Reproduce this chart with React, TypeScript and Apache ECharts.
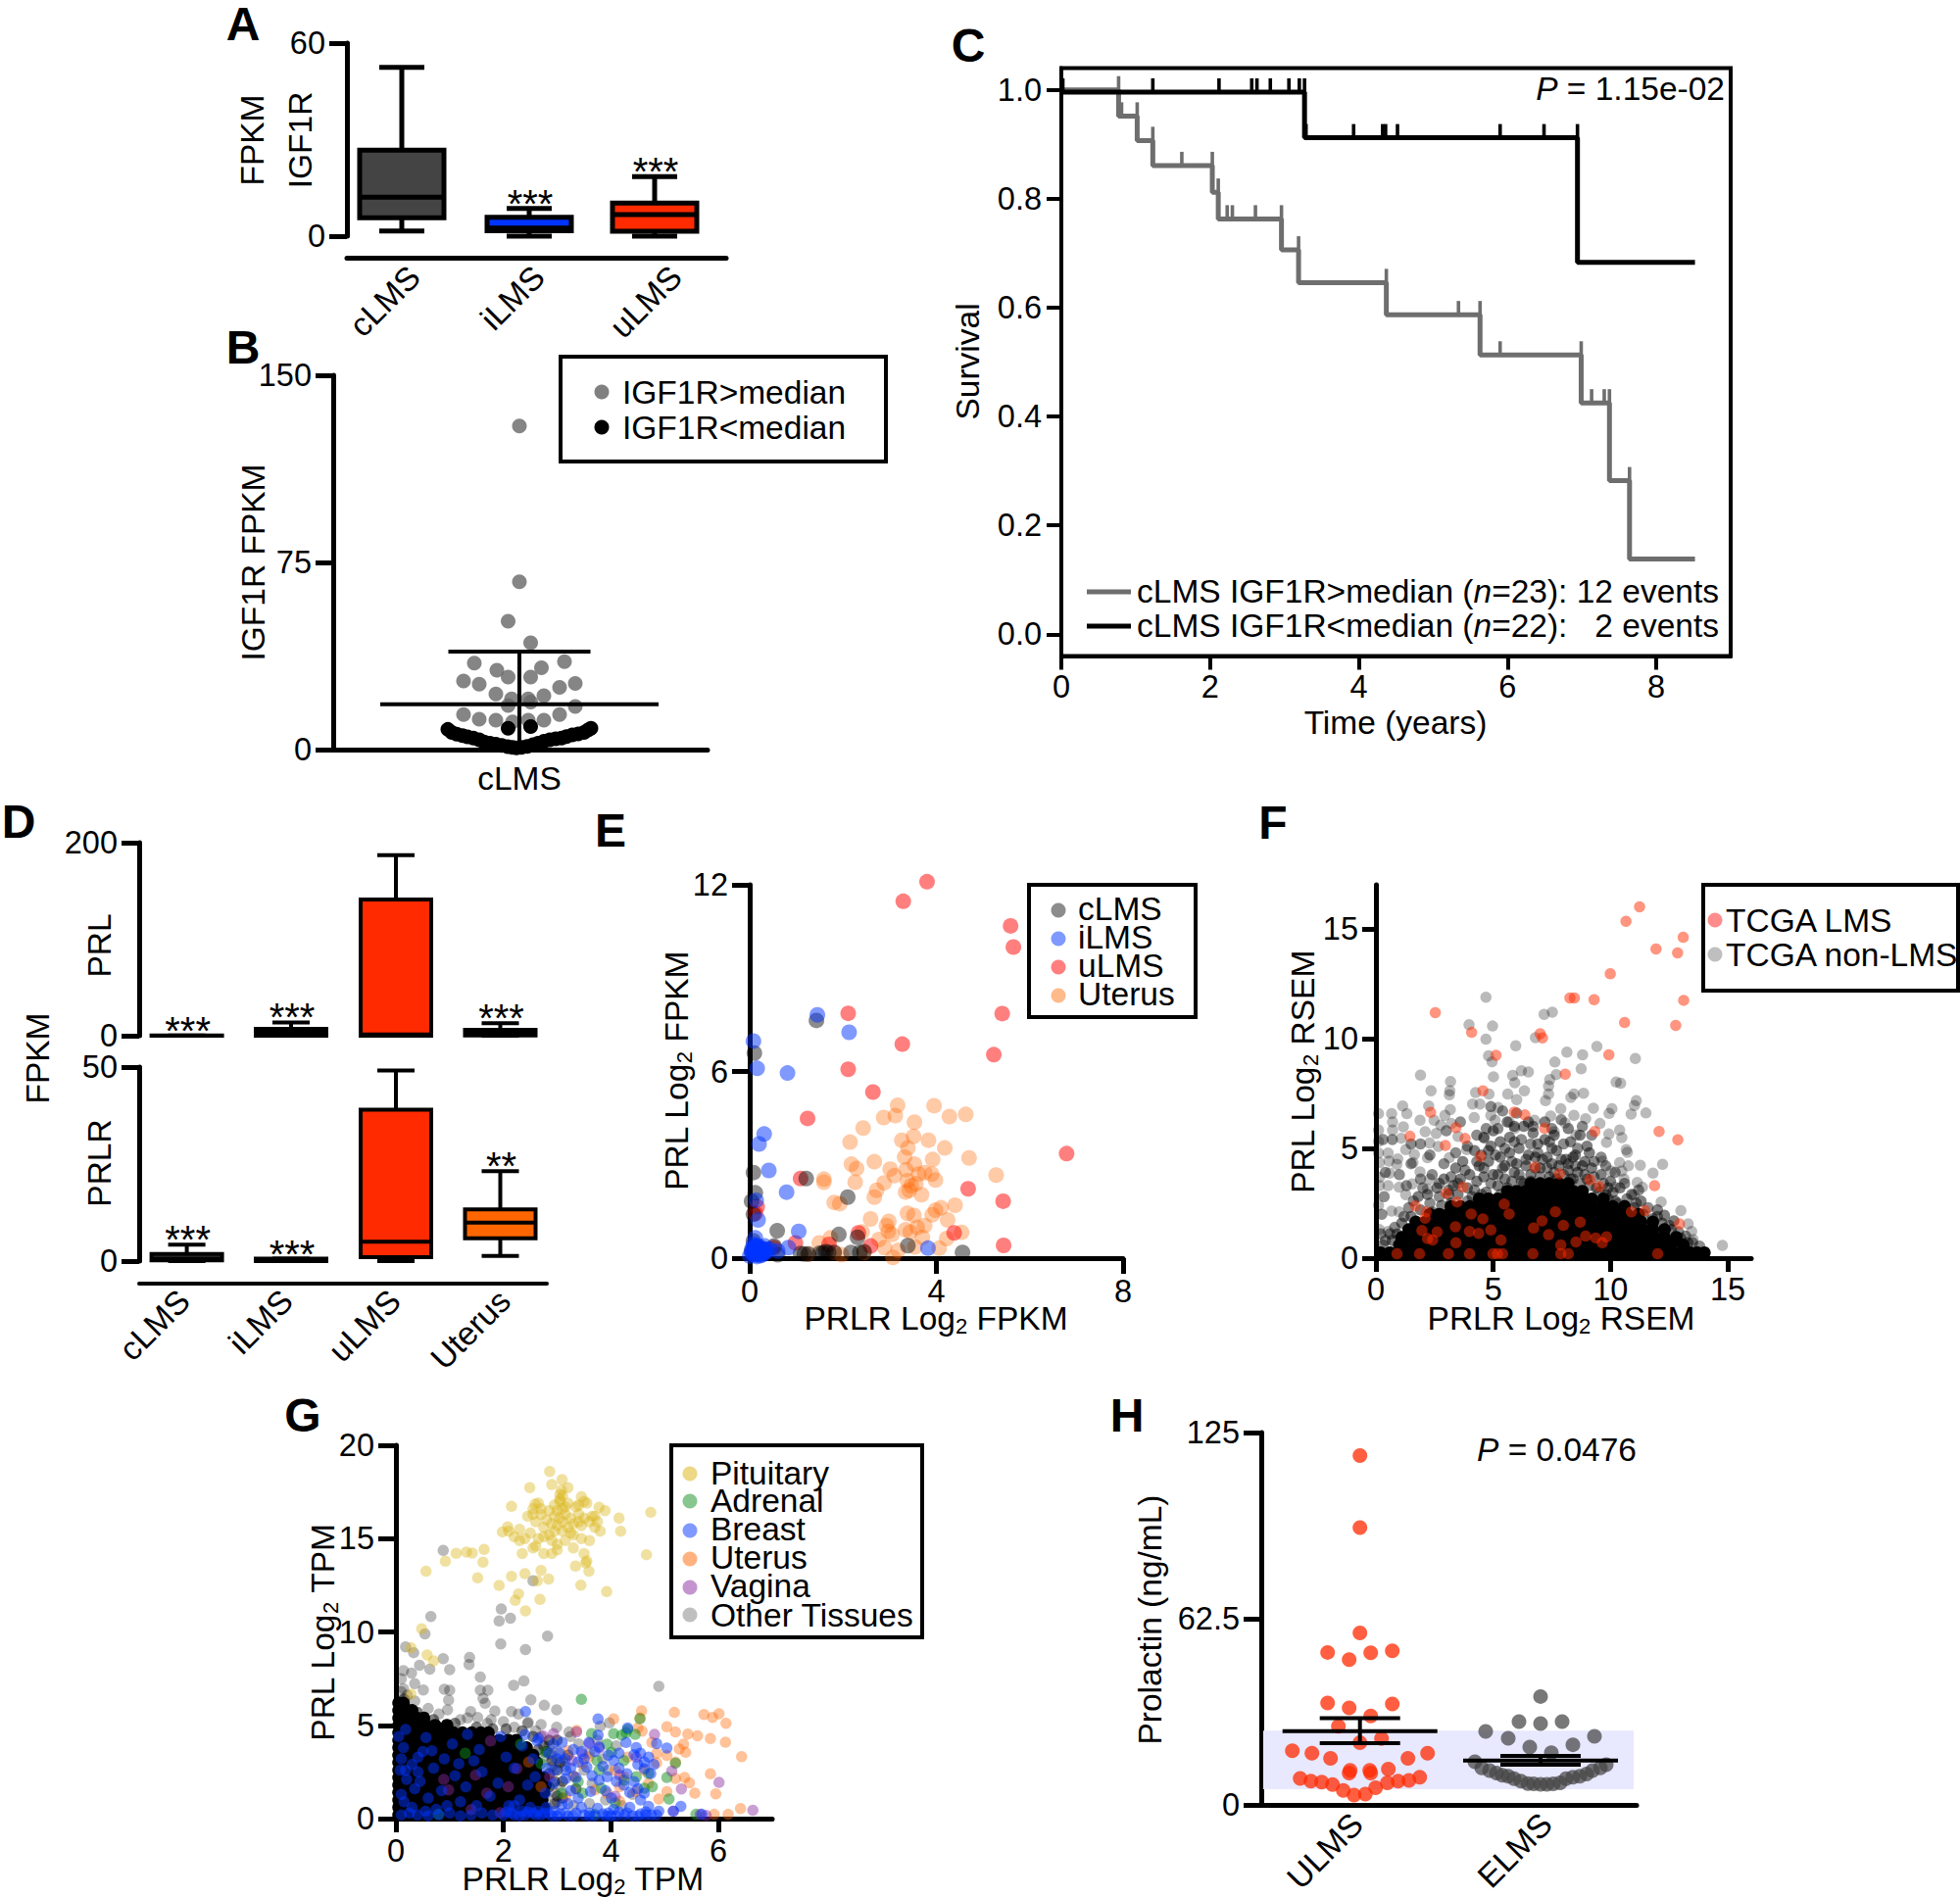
import React, { useEffect, useRef } from "react";
import * as echarts from "echarts";

const FONT = '"Liberation Sans", Arial, Helvetica, sans-serif';
const RED = "#ff2a00", BLUE = "#0033ff", ORANGE = "#ff6600", DARK = "#444444";
const TEXT_SIZE = 33.5, TICK_SIZE = 32.5;

// ---------- A
const aCategories = ["cLMS", "iLMS", "uLMS"];
const aBoxes = [[1.6, 5.7, 12.1, 26.7, 52.5], [0, 1.7, 2.5, 5.9, 8.6], [0, 1.5, 6.7, 10.3, 18.5]];
const aStars = ["", "***", "***"];
// ---------- B
const bHigh = [[0,129.7],[0,67.2],[-11.5,51.4],[11.5,42.8],[-46,34.7],[46,35.2],[-23,31.8],[22.5,32.8],[-11.5,29.1],[11.5,29.1],[-57,27.5],[57,26.5],[-41,26.2],[41,24.9],[-24,22.3],[25,21.6],[-8,20.3],[9,20.3],[-11.5,17.7],[11.5,19],[57,17.3],[-57,14],[41,14],[-41,12.2],[-24,11.8],[25,11.8],[-7,11.1],[9,11.8]];
const bLow = [[-11.5,8.5],[11.5,9.2],[-73,8.1],[-69,6.9],[-64,6.2],[-58,5.6],[-53,5.1],[-47,4.6],[-41,3.9],[-36,3],[-30,2.6],[-24,2.2],[-18,1.7],[-12,1.2],[-7,0.9],[-3,0.7],[2,0.9],[8,1.3],[14,2],[19,2.6],[25,3.3],[31,3.9],[37,4.3],[43,4.6],[48,5.2],[54,5.9],[60,6.3],[66,6.9],[70,7.9],[73,8.5]];
const bMeanSd = [0, 0, 18.2, 39.3];
// ---------- C
const cHighLine = [[0,1],[0.77,0.952],[1.02,0.907],[1.23,0.861],[2.03,0.812],[2.11,0.763],[2.96,0.706],[3.19,0.646],[4.37,0.587],[5.63,0.513],[6.99,0.425],[7.37,0.282],[7.64,0.138],[8.52,0.138]];
const cLowLine = [[0,0.996],[3.27,0.912],[6.94,0.683],[8.52,0.683]];
const cHighCensor = [[0.77,1],[0.81,0.952],[1.02,0.952],[1.23,0.907],[1.62,0.861],[2.03,0.861],[2.11,0.812],[2.23,0.763],[2.3,0.763],[2.61,0.763],[2.96,0.763],[3.19,0.706],[4.37,0.646],[5.34,0.587],[5.63,0.587],[5.9,0.513],[6.99,0.513],[7.13,0.425],[7.3,0.425],[7.37,0.425],[7.64,0.282]];
const cLowCensor = [[0.02,0.996],[1.23,0.996],[2.12,0.996],[2.56,0.996],[2.63,0.996],[2.81,0.996],[3.06,0.996],[3.2,0.996],[3.27,0.996],[3.29,0.912],[3.93,0.912],[4.32,0.912],[4.36,0.912],[4.52,0.912],[5.9,0.912],[6.49,0.912],[6.94,0.912]];
const cXTicks = [0, 2, 4, 6, 8];
const cYTicks = [0, 0.2, 0.4, 0.6, 0.8, 1];
// ---------- D
const dCategories = ["cLMS", "iLMS", "uLMS", "Uterus"];
const dPrlBoxes = [[0, 0, 0.1, 0.3, 0.3], [0, 0, 3.2, 7, 13.8], [0, 0, 1.2, 141, 187], [0, 0.3, 2.8, 6, 13]];
const dPrlStars = ["***", "***", "", "***"];
const dPrlrBoxes = [[0, 0.2, 0.6, 1.8, 4.2], [0, 0, 0.2, 0.6, 0.6], [0, 1, 5, 39, 49.1], [1.3, 5.9, 9.9, 13.3, 23.2]];
const dPrlrStars = ["***", "***", "", "**"];
// ---------- E
const eUlms = [[3.8,12.1],[3.29,11.47],[5.59,10.68],[5.65,10],[2.11,7.87],[5.41,7.86],[3.27,6.88],[5.23,6.54],[2.11,6.07],[2.64,5.34],[1.24,4.49],[6.79,3.36],[4.68,2.23],[5.43,1.83],[1.09,2.56],[4.38,0.81],[5.44,0.41],[2.33,0.81],[2.59,0.39],[0.98,0.49],[0.16,1.65],[0.12,1.44],[1.7,0.44],[0.52,0.34]];
const eIlms = [[1.45,7.82],[2.13,7.26],[0.08,6.98],[0.16,6.1],[0.81,5.95],[0.31,3.99],[0.2,3.67],[0.41,2.82],[0.79,2.12],[0.14,1.86],[0.18,1.23],[1.05,0.86],[0.12,0.65],[3.82,0.32],[0.83,0.34],[0.6,0.23],[0.08,0.28],[0.16,0.23],[0.24,0.34],[0.32,0.39],[0.04,0.18],[0.2,0.13],[0.28,0.18],[0.12,0.39],[0.36,0.28],[0,0.07],[0.44,0.28],[0.08,0.44],[0.14,0.15],[0.22,0.2],[0.1,0.25],[0.18,0.35],[0.26,0.1],[0.3,0.25],[0.05,0.3],[0.15,0.05],[0.1,0.1],[0.2,0.3],[0.25,0.2],[0.3,0.15],[0.12,0.2],[0.18,0.12],[0.06,0.15],[0.22,0.08],[0.28,0.3],[0.14,0.3],[0.34,0.18],[0.1,0.35],[0.16,0.4],[0.24,0.15]];
const eClms = [[1.43,7.64],[0.1,6.59],[0.08,2.75],[1.21,2.56],[0.12,2.1],[0.04,1.83],[2.1,1.96],[0.08,1.41],[0.59,0.88],[1.91,0.76],[2.31,0.67],[3.39,0.4],[4.56,0.18],[0.52,0.39],[0.6,0.11],[1.09,0.15],[1.17,0.13],[1.26,0.13],[1.5,0.16],[1.57,0.17],[1.63,0.21],[1.69,0.18],[1.81,0.18],[2.17,0.18],[2.36,0.18],[2.45,0.21],[0.04,0.23],[0.08,0.55]];
const eUterus = [[3.17,4.91],[3.95,4.9],[2.87,4.52],[3.12,4.58],[4.28,4.55],[4.63,4.62],[3.53,4.37],[2.43,4.18],[3.51,3.91],[3.26,3.79],[2.15,3.73],[3.83,3.79],[3.39,3.54],[4.18,3.54],[3.32,3.25],[3.92,3.17],[4.7,3.22],[2.67,3.1],[2.18,3.02],[2.29,2.88],[3.01,2.86],[3.53,3.02],[3.35,2.84],[3.62,2.7],[3.75,2.75],[3.9,2.7],[3.1,2.65],[5.28,2.67],[1.59,2.54],[1.59,2.44],[2.26,2.44],[3.98,2.51],[3.38,2.49],[2.88,2.42],[3.56,2.39],[3.46,2.33],[2.72,2.18],[3.34,2.12],[2.67,1.96],[3.42,2.18],[3.68,2.04],[1.81,1.79],[1.93,1.75],[4.4,1.7],[4.1,1.62],[3.98,1.54],[3.38,1.44],[3.52,1.37],[3.91,1.39],[2.59,1.26],[4.24,1.23],[2.98,1.18],[2.93,1.05],[3.75,1.05],[3.59,0.99],[3.34,0.91],[3.44,0.84],[2.97,0.86],[2.41,0.84],[4.54,0.83],[3.05,0.76],[3.7,0.67],[2.77,0.6],[4.22,0.63],[1.73,0.65],[1.49,0.49],[2.89,0.34],[4.06,0.32],[3.54,0.36],[3.18,0.25],[3.07,0.02],[1.97,0.11],[1.81,0.18],[1.25,0.13],[2.45,0.18]];
// ---------- F
const fLms = [[11.24,16],[10.66,15.34],[13.1,14.61],[11.94,14.08],[12.86,13.9],[9.99,12.95],[13.12,11.74],[8.27,11.85],[8.46,11.85],[9.3,11.77],[2.53,11.18],[10.6,10.73],[12.78,10.6],[4.08,10.28],[7,10.22],[7.1,10.03],[5.12,9.24],[9.93,9.26],[8.07,8.38],[4.56,7.62],[2.33,6.64],[5.9,6.65],[6.35,6.52],[3.41,5.94],[7.19,5.91],[9.33,5.77],[12.07,5.77],[1.45,5.55],[3.8,5.45],[12.87,5.39],[2.96,5.13],[4.45,4.63],[6.78,4.15],[7.82,3.84],[9.12,3.57],[9.52,3.27],[3.71,3.23],[11.88,3.3],[3,2.96],[3.46,2.56],[5.47,2.46],[1.68,2.38],[2.14,2.11],[4.06,2.01],[5.68,2.01],[7.65,2.11],[10.89,2.11],[11.47,2.16],[2.1,1.82],[4.56,1.79],[7.08,1.7],[8.71,1.64],[7.99,1.49],[12.94,1.56],[3.39,1.43],[6.72,1.37],[1.96,1.26],[2.61,1.19],[3.99,1.22],[4.38,1.13],[4.9,1.28],[7.36,1.07],[8.94,1],[9.37,0.92],[9.83,0.97],[2.2,0.89],[2.42,0.83],[5.33,0.82],[3.41,0.7],[9.65,0.7],[8.53,0.74],[7.88,0.6],[0.9,0.2],[1.86,0.2],[3.09,0.2],[3.99,0.2],[4.99,0.2],[5.18,0.2],[5.4,0.2],[6.69,0.2],[7.88,0.2],[8.2,0.2],[12.01,0.2]];
const fSparse = [[4.69,11.88],[3.97,10.63],[4.97,10.57],[7.17,11.1],[7.52,11.2],[6.8,10.04],[4.69,9.97],[5.96,9.67],[4.8,9.21],[4.95,8.94],[8.14,9.38],[8.81,9.26],[9.42,9.64],[11.06,9.09],[7.63,8.93],[8.75,8.62],[1.9,8.33],[5.01,8.26],[5.83,8.32],[6.2,8.53],[6.5,8.48],[7.41,8.13],[7.69,8.36],[3.18,8.04],[5.92,7.99],[7.36,7.84],[10.24,8.02],[10.43,7.96],[2.35,7.62],[3.15,7.62],[3.13,7.44],[4.25,7.54],[4.82,7.47],[5.62,7.47],[6.33,7.62],[7.36,7.47],[8.44,7.47],[8.85,7.51],[8.31,7.32],[6,7.22],[7.23,7.17],[4.12,7.02],[4.43,7.02],[1.14,6.93],[11.1,7.17],[11.02,6.95],[5.21,6.86],[7.88,6.8],[9.27,6.83],[10.06,6.8],[2.25,6.93],[3.17,6.76],[0.11,6.58],[0.67,6.58],[10.88,6.56],[11.51,6.61],[1.32,6.58],[9.94,6.59],[4.19,6.4],[4.9,6.5],[2.94,6.5],[8.44,6.5],[8.94,6.35],[7.45,6.47],[1.88,6.28],[0.71,6.2],[2.48,6.28],[0.11,5.83],[0.71,5.83],[1.17,5.98],[2.76,6.06],[3.22,6.13],[5.08,6.28],[5.68,6.2],[6.76,6.28],[8.06,6.16],[9.55,6.13],[10.39,5.83],[9.93,5.65],[10.48,5.49],[0.11,5.31],[1.08,5.46],[2.1,5.76],[2.57,5.68],[3.5,5.54],[4.62,5.46],[5.92,5.91],[7.6,5.76],[8.53,5.61],[9.83,5.27],[0.11,4.79],[0.52,4.79],[1.27,4.94],[2.29,5.24],[2.66,5.09],[3.87,4.94],[10.67,4.94],[10.72,4.82],[1.64,4.72],[0.93,4.52],[0.56,4.42],[2.2,4.57],[3.13,4.57],[0.89,4.27],[0.15,4.35],[12.22,4.27],[11.27,4.23],[10.76,4.2],[10.39,4.35],[1.58,4.35],[9.65,4.42],[1.88,3.93],[0.58,3.87],[11.81,3.87],[10.02,3.97],[10.48,3.97],[0.15,3.68],[2.29,3.6],[10.58,3.6],[11.14,3.45],[0.15,3.3],[0.52,3.3],[0.99,3.23],[1.55,3.38],[2.2,3.15],[10.2,3.23],[11.36,3.23],[11,2.89],[1.27,2.89],[12.16,2.56],[0.11,2.41],[13,2.16],[13.31,1.56],[0.15,1.3],[13.46,1.22],[13.52,0.85],[14.77,0.58],[0.67,2.14],[0.99,2.11],[0.52,1.22]];
const fMiddle = [[3.5,2.9],[3.9,3.2],[4.3,3.5],[4.1,2.8],[4.7,3],[5.2,3.3],[5,3.8],[5.5,3.6],[5.9,3.9],[6.2,3.5],[6.6,3.8],[7,4.1],[7.4,3.7],[7.8,4.2],[8.2,4],[8.6,3.9],[9,3.6],[9.4,3.2],[9.8,2.9],[10.2,2.6],[10.6,2.4],[11,2.3],[11.4,2],[11.8,1.8],[12.2,1.6],[12.6,1.3],[13,0.9],[13.3,0.7],[3.2,2.5],[2.8,2.4],[2.4,2.1],[1.9,2.2],[1.5,1.9],[1.1,1.6],[0.9,1.1],[0.7,0.8],[4.4,4.2],[4.8,4.4],[5.3,4.6],[5.7,4.8],[6.1,5],[6.5,4.7],[6.9,5.2],[7.3,4.6],[7.7,4.9],[8.1,4.5],[8.5,4.7],[8.9,4.4],[9.2,4.1],[9.6,3.8],[4,3.8],[3.6,3.6],[3.3,3.3],[6,4.3],[6.4,4.2],[7.2,5.4],[7.6,5.6],[6.7,5.7],[6.3,6],[5.7,5.5],[5.3,5.3],[4.9,5.1],[5,5.8],[4.8,4.9],[8.3,5.3],[8.7,5.6],[8.4,4.6],[9,5.1],[9.1,4.8],[8.2,5.9],[7.2,6.2],[6.5,6.2],[5.9,6],[5.6,6.2],[4.6,5.5],[4.2,4.9],[3.7,4.4],[3.4,4.1],[2.9,3.6],[2.6,3.2],[2.2,2.9],[1.8,2.8],[10,3.5],[10.4,3.2],[10.9,2.9],[11.3,2.6],[12,2.2],[12.3,1.95],[12.7,1.7],[6.8,4.6],[7.5,4.3],[5.5,4.2],[4.6,3.7],[8.8,4.2],[3.1,2.9],[9.9,3.2],[6.3,3.4],[7.7,3.6],[8.4,3.6]];
const fMiddle2 = [[2.3,2.5],[2.7,2.8],[3.1,3.1],[3.5,3.4],[3.9,2.6],[4.2,3.1],[4.5,2.9],[4.9,3.4],[5.3,2.9],[5.2,3.8],[5.6,3.2],[5.8,3.5],[5.4,4.1],[5.8,4.4],[6.1,3.8],[6.4,4.5],[6.6,3.5],[6.8,4.1],[7,3.7],[7.1,4.5],[7.3,4.1],[7.5,5],[7.6,3.9],[7.9,4.5],[8,3.8],[8.2,4.3],[8.3,3.6],[8.5,4.2],[8.7,3.4],[8.9,3.8],[9.1,3.3],[9.3,3.7],[9.5,3],[9.7,3.4],[9.9,2.7],[10.1,3],[10.3,2.5],[10.7,2.7],[11.1,2.5],[11.6,2.3],[12,1.9],[12.5,1.5],[12.9,1.2],[13.2,1],[13.5,0.7],[13.8,0.55],[1.2,1.9],[1.4,2.3],[0.8,1.4],[0.6,1.1],[0.4,0.8],[0.3,0.6],[4.3,4.4],[4.6,4.1],[3.8,4],[3.2,3.7],[2.7,3.4],[2,3.2],[1.6,2.6],[6.2,5.4],[6.6,5.2],[6.9,4.8],[7.4,5.3],[8,5.2],[8.6,5],[9.3,4.4],[9.6,4.6],[4.5,4.7],[5.1,4.7],[5.5,5],[5.9,5.3],[5.2,5.9],[4.7,5.9],[4.3,5.6],[3.9,5.1],[3.4,4.8],[2.9,4.3],[2.4,3.8],[1.9,3.6],[1.3,3.3],[10.2,3.9],[10.6,3.4],[11.2,3.1],[9.8,4.2],[6.7,6],[7.5,5.9],[7.9,6.3],[8.8,6],[9.2,5.6],[6,6.6],[5.4,6.7],[4.9,6.9],[3.6,6.2],[3,5.8],[2.3,4.7],[1.5,4.3],[1,3.8],[0.4,3.9],[0.3,5.4],[1.5,5.2],[1.9,5.2],[0.7,5.4],[0.35,2.8],[0.25,2],[0.2,1.1]];
const fCoreRows = [
  [0.25, [0.2,0.6,1,1.4,1.8,2.2,2.6,3,3.4,3.8,4.2,4.6,5,5.4,5.8,6.2,6.6,7,7.4,7.8,8.2,8.6,9,9.4,9.8,10.2,10.6,11,11.4,11.8,12.2,12.6,13,13.4,13.7,14]],
  [0.6, [1,1.4,1.8,2.2,2.6,3,3.4,3.8,4.2,4.6,5,5.4,5.8,6.2,6.6,7,7.4,7.8,8.2,8.6,9,9.4,9.8,10.2,10.6,11,11.4,11.8,12.2,12.6,13.1]],
  [0.95, [1.1,1.5,1.9,2.3,2.7,3.1,3.5,3.9,4.3,4.7,5.1,5.5,5.9,6.3,6.7,7.1,7.5,7.9,8.3,8.7,9.1,9.5,9.9,10.3,10.7,11.1,11.5,11.9,12.3,12.8]],
  [1.3, [1.4,1.8,2.2,2.6,3,3.4,3.8,4.2,4.6,5,5.4,5.8,6.2,6.6,7,7.4,7.8,8.2,8.6,9,9.4,9.8,10.2,10.6,11,11.4,11.8,12.3]],
  [1.65, [1.7,2.1,2.5,2.9,3.3,3.7,4.1,4.5,4.9,5.3,5.7,6.1,6.5,6.9,7.3,7.7,8.1,8.5,8.9,9.3,9.7,10.1,10.5,10.9,11.3,11.8]],
  [2, [2.3,2.7,3.1,3.5,3.9,4.3,4.7,5.1,5.5,5.9,6.3,6.7,7.1,7.5,7.9,8.3,8.7,9.1,9.5,9.9,10.3,10.7,11.2]],
  [2.35, [3.2,3.6,4,4.4,4.8,5.2,5.6,6,6.4,6.8,7.2,7.6,8,8.4,8.8,9.2,9.6,10.1,10.6]],
  [2.7, [4.4,4.8,5.2,5.6,6,6.4,6.8,7.2,7.6,8,8.4,8.8,9.2,9.7]],
  [3.05, [5.6,6,6.4,6.8,7.2,7.6,8,8.4,8.8]],
  [3.4, [6.6,7,7.4,7.8,8.2]],
];
const fXTicks = [0, 5, 10, 15];
const fYTicks = [0, 5, 10, 15];
// ---------- G
const gPituitary = [[2.86,18.6],[3.09,18.16],[2.9,17.9],[3.2,17.73],[2.49,17.73],[3.05,17.38],[3.45,17.24],[2.15,16.73],[2.59,16.85],[3.78,16.68],[3.89,16.5],[4.74,16.41],[4.15,16.1],[4.18,15.4],[1.98,15.36],[2.08,15.63],[4.66,14.14],[1.64,14.42],[1.42,14.23],[1.12,14.21],[1.31,14.28],[0.92,13.79],[1.62,13.74],[0.56,13.25],[1.52,12.9],[1.92,12.49],[2.15,12.98],[2.4,13.12],[2.63,12.74],[2.84,12.84],[3.44,12.51],[3.92,12.16],[2.28,12.04],[2.22,11.69],[2.68,11.74],[2.41,11.13],[0.48,10.17],[0.28,9.15],[0.58,8.77],[0.7,8.45],[0.28,6.67],[3.59,13.26],[3.34,13.53],[3.53,13.7],[2.45,16.2],[2.55,16.6],[2.6,15.9],[2.65,16.9],[2.7,16.3],[2.75,15.6],[2.8,16],[2.85,15.2],[2.85,16.5],[2.9,15.8],[2.9,14.9],[2.95,16.2],[2.95,15.4],[3,14.7],[3,15.7],[3,16.5],[3.05,16.1],[3.05,17],[3.1,15.4],[3.1,15.9],[3.1,16.6],[3.15,14.9],[3.15,16.3],[3.2,15.6],[3.2,16.9],[3.25,16.1],[3.3,15.2],[3.3,15.8],[3.35,16.7],[3.4,16.3],[3.45,15.7],[3.45,15],[3.5,16.1],[3.55,16.9],[3.6,15.9],[3.6,14.9],[3.65,16.2],[3.7,15.6],[3.75,15.9],[3.8,15.4],[2.3,15.5],[2.4,15],[2.5,15.3],[2.6,14.6],[2.35,14.2],[2.55,14.5],[2.75,14.2],[2.9,14.2],[3,14.4],[3.3,14.5],[3.5,14.2],[3.55,13.8],[2.2,15.1],[2.1,15.4],[2.3,14.9],[2.7,13.3],[2.65,15],[2.75,15.1],[3.08,17.6],[3.05,17.1],[3.1,17.3],[3.15,16.7],[3.4,16.8],[3.5,17],[2.95,16.8],[2.7,16.6],[2.55,16.3],[3.25,15.3],[3.4,15.9],[3.7,16.2]];
const gAdrenal = [[3.45,6.39],[4.54,5.35],[4.31,4.78],[4.28,4.6],[3.64,4.55],[4.05,4.55],[4.45,4.51],[4.2,4.48],[3.93,3.99],[4.01,3.55],[5.2,2.97],[3.78,2.59],[5.04,2.2],[3.82,1.63],[4.24,2.06],[4.7,2.41],[5.08,1.05],[5.58,0.23],[0.79,0.23],[1.29,3.5],[2.32,3.99],[2.78,3.55],[2.7,2.94],[3.09,1.36],[3.7,0.23],[4.62,1.63],[4.08,0.84],[3.47,1.36],[4.24,3.11],[3.74,3.11],[3.39,1.98],[4.47,2.24],[4.77,1.71]];
const gBreast = [[2.41,5.74],[3.76,5.34],[4.31,4.86],[3.76,4.48],[3.59,4.08],[4.85,4.02],[5.04,3.78],[4.47,3.81],[4.28,4.08],[3.78,3.85],[3.09,4.08],[2.93,3.99],[4.43,3.43],[4.05,3.11],[3.39,3.03],[4.62,3.03],[3.55,2.76],[3.16,2.59],[4.62,2.68],[4.74,2.41],[3.78,2.06],[3.16,2.15],[2.93,1.89],[3.93,2.24],[4.24,1.8],[4.43,1.98],[3.62,1.45],[3.39,1.1],[4.01,1.1],[4.62,1.36],[5.3,0.66],[5.16,0.4],[2.63,4.16],[2.59,2.24],[2.78,1.36],[3.09,0.75],[4.7,0.66],[4.89,0.4],[5.69,0.23],[0.18,4.78],[0.56,4.34],[1.33,4.51],[0.14,3.81],[0.41,3.29],[0.67,3.64],[1.17,2.94],[0.18,2.59],[0.41,2.5],[0.1,3.2],[0.3,2.9],[0.5,3.6],[0.2,2.1],[0.45,2],[0.7,2.7],[0.9,3.2],[0.1,1.3],[0.35,1.6],[0.6,1.1],[0.85,1.5],[1.1,2.3],[1.3,1.7],[1.45,3.1],[1.6,2.5],[1.75,1.2],[1.9,1.9],[1.2,0.9],[0.95,0.7],[0.3,0.6],[0.15,0.9],[0.55,0.4],[0.75,0.5],[1.5,0.7],[2.05,3.3],[2.2,2.7],[2.35,3.9],[2.45,1.8],[2.3,1],[2.1,0.7],[2.55,3.2],[2.65,4.3],[2.4,4.5],[1.95,4.4],[1.05,4],[1.55,3.7],[0.05,4.4],[0.08,2.6],[2,0.2],[2.15,0.3],[2.3,0.15],[2.45,0.35],[2.6,0.2],[2.75,0.3],[2.9,0.15],[3.05,0.25],[3.2,0.15],[3.5,0.2],[3.7,0.15],[3.85,0.25],[4,0.15],[4.25,0.2],[4.4,0.15],[4.55,0.25],[4.75,0.2],[2.2,0.7],[2.5,0.6],[2.8,0.6],[0.1,0.2],[0.25,0.3],[0.4,0.2],[0.6,0.15],[0.8,0.2],[1,0.3],[1.2,0.15],[1.4,0.2],[1.6,0.3],[1.8,0.2],[3.35,2.2],[3.9,1.5],[4.15,2.7],[4.5,2.9],[3.45,3.6],[3.25,1.5],[4.55,1],[3,3.2],[2.8,2.7],[2.85,0.3],[2.35,0.4],[2.65,0.4],[2.95,0.4],[2.85,3.5],[2.95,2.6],[3.05,3.5],[3.15,3.2],[3.25,2.7],[3.3,3.7],[3.5,3.2],[3.65,2.3],[3.7,3.6],[3.85,2.8],[3.95,3.4],[4.1,2],[4.15,3.5],[4.3,2.4],[4.35,1.4],[4.5,1.6],[4.55,3.5],[4.7,3.3],[4.8,2.9],[3.2,0.8],[3.45,0.6],[3.75,0.55],[4.05,0.5],[4.35,0.6],[4.65,0.35],[4.85,0.2],[3.35,0.3],[3.6,0.3],[3.95,0.3],[4.15,0.35],[2.05,0.35],[2.2,0.2],[2.4,0.2],[2.55,0.3],[2.7,0.2],[3,0.15],[3.15,0.3],[3.3,0.15],[3.6,0.15],[4.1,0.15],[4.3,0.3],[4.5,0.15],[4.65,0.2],[3.9,0.15]];
const gUterus = [[4.57,5.77],[5.18,5.69],[5.73,5.58],[6.01,5.62],[5.89,5.42],[6.14,5.11],[4.05,5.34],[5.04,4.92],[4.58,4.69],[5.2,4.64],[5.43,4.53],[5.61,4.44],[5.85,4.29],[6.13,4.09],[5.35,3.99],[4.76,4.08],[5.27,3.73],[5.04,3.38],[4.85,3.5],[6.43,3.32],[5.2,3.03],[4.85,2.99],[5.85,2.4],[5.37,2.2],[5.2,2.15],[5.46,1.92],[5.95,1.33],[5.56,1.36],[5.04,1.45],[4.89,1.05],[6.41,0.54],[5.92,0.23],[6.18,0.23],[3.36,4.72],[3.2,3.64],[3.47,2.94],[4.08,2.59],[4.24,2.24],[4.7,1.89],[4.16,1.71],[3.93,1.36],[2.47,3.03],[2.7,1.71],[3.7,1.54],[4.47,1.45],[4.5,4.86],[4.54,5.39],[5.39,3.55],[3.32,2.24],[3.59,3.29],[4.31,3.29],[3.16,1.19],[4.16,0.93],[4.62,2.59]];
const gVagina = [[6.01,1.94],[6.64,0.45],[4.81,4.51],[5.66,0.23],[5.77,0.17],[5.31,1.59],[5.13,2.55],[5.16,0.4],[2.74,4.43],[2.93,4.55],[3.36,4.65],[3.6,4.02],[3.78,3.78],[3.28,3.11],[3.47,3.46],[1.76,4.16],[2.25,2.68],[1.48,2.33],[0.89,2.1],[0.98,1.54],[1.69,1.36],[2.09,1.71],[1.4,0.49],[1.94,0.32],[2.86,2.24],[4.16,2.33],[4.08,1.19],[4.47,3.29]];
const gOtherSparse = [[0.88,14.37],[2.55,12.74],[1.96,11.23],[1.92,10.59],[2.13,10.74],[0.65,10.83],[0.54,9.9],[2.82,9.78],[1.95,9.36],[2.41,9.06],[0.18,9.2],[0.33,8.89],[0.88,8.57],[1.37,8.63],[1.36,8.26],[0.44,8.22],[0.63,8.01],[1,7.98],[0.14,7.93],[0.29,7.8],[0.1,7.49],[1.57,7.58],[0.35,7.23],[2.38,7.37],[2.19,7.14],[4.89,7.09],[0.9,6.93],[1,6.88],[0.51,6.89],[1.57,6.88],[1.71,6.88],[1.62,6.44],[1.66,6.18],[2.51,6.37],[0.98,6.35],[2.76,6.07],[2.99,5.83],[0.96,5.83],[1.84,5.76],[1.39,5.74],[2.15,5.74],[2.28,5.6],[1.33,5.39],[1.52,5.42],[1.77,5.3],[2.46,5.16],[2.7,5.04],[2.99,4.9],[3.8,4.95],[3.97,5.13],[3.22,4.64],[0.14,6.96],[0.21,6.61],[2.7,4.4],[2.85,3.9],[3,3.6],[3.1,3.1],[3.25,4.4],[3.4,4],[3.6,3.5],[3.75,4.2],[3.85,3.2],[3.95,2.6],[4.1,3.9],[3.3,2.3],[3.5,2.6],[3.65,1.9],[3.05,1.7],[2.9,2.8],[2.8,1.2],[3,0.9],[3.3,0.7],[3.6,0.8],[3.9,1],[4.2,0.7],[4.4,1.3],[3.15,2.8],[2.75,3.3],[2.6,4.7],[2.45,5.1],[2.2,4.9],[2,5.2],[1.7,5.1],[1.2,5.3],[0.8,5.6],[0.6,5.9],[0.35,6.3],[0.1,6.8],[2.9,3.4],[2.8,2.2],[2.95,1.4]];
const gOtherMid = [[2.8,3.6],[2.9,3.1],[3,2.6],[3.1,2],[3,1.2],[2.85,1.7],[2.95,0.8],[3.1,1.1],[2.85,4.2],[3,4.2],[2.55,4.4],[2.35,4.7],[2.05,4.8],[1.8,4.8],[1.5,4.9],[1.1,5.1],[0.7,5.3],[0.4,5.7],[0.15,6.4],[2.85,2.4],[3.2,3.4],[3.35,1.6],[2.75,3.9],[2.65,3.7],[3.05,3],[2.95,2]];
const gOtherCoreRows = [
  [0.2, [0.05,0.22,0.39,0.56,0.73,0.9,1.07,1.24,1.41,1.58,1.75,1.92,2.09,2.26,2.43,2.6,2.75]],
  [0.6, [0.05,0.22,0.39,0.56,0.73,0.9,1.07,1.24,1.41,1.58,1.75,1.92,2.09,2.26,2.43,2.6,2.75]],
  [1, [0.05,0.22,0.39,0.56,0.73,0.9,1.07,1.24,1.41,1.58,1.75,1.92,2.09,2.26,2.43,2.6,2.72]],
  [1.4, [0.05,0.22,0.39,0.56,0.73,0.9,1.07,1.24,1.41,1.58,1.75,1.92,2.09,2.26,2.43,2.6,2.75]],
  [1.8, [0.05,0.22,0.39,0.56,0.73,0.9,1.07,1.24,1.41,1.58,1.75,1.92,2.09,2.26,2.43,2.6,2.78]],
  [2.2, [0.05,0.22,0.39,0.56,0.73,0.9,1.07,1.24,1.41,1.58,1.75,1.92,2.09,2.26,2.43,2.6,2.75]],
  [2.6, [0.05,0.22,0.39,0.56,0.73,0.9,1.07,1.24,1.41,1.58,1.75,1.92,2.09,2.26,2.43,2.6]],
  [3, [0.05,0.22,0.39,0.56,0.73,0.9,1.07,1.24,1.41,1.58,1.75,1.92,2.09,2.26,2.43,2.62]],
  [3.4, [0.05,0.22,0.39,0.56,0.73,0.9,1.07,1.24,1.41,1.58,1.75,1.92,2.09,2.26,2.43,2.55]],
  [3.8, [0.05,0.22,0.39,0.56,0.73,0.9,1.07,1.24,1.41,1.58,1.75,1.92,2.09,2.26,2.43]],
  [4.2, [0.05,0.22,0.39,0.56,0.73,0.9,1.07,1.24,1.41,1.58,1.75,1.92,2.09,2.24]],
  [4.6, [0.05,0.22,0.39,0.56,0.73,0.9,1.07,1.24,1.41,1.58,1.72]],
  [5, [0.05,0.22,0.39,0.56,0.73,0.95]],
  [5.4, [0.05,0.22,0.39,0.52]],
  [5.8, [0.05,0.22,0.3]],
  [6.2, [0.05,0.14]],
];
const gXTicks = [0, 2, 4, 6];
// ---------- H
const hCategories = ["ULMS", "ELMS"];
const hUlms = [[0,117.3],[0,93.1],[0,57.7],[-33,51.2],[11,51.1],[33,51.7],[-11,48.8],[-33,34.2],[-11,32.6],[33,33.9],[11,29.9],[-22,26.4],[22,22.3],[0,20.9],[-69,18.2],[-49,17.4],[69,17.4],[49,15.6],[-30,15.6],[29,12],[-10,11.6],[-11,10.7],[10,11.6],[11,10.7],[-61,8.9],[-50,8],[-39,7.7],[-28,6.8],[61,9.3],[50,8.2],[39,8],[28,7.4],[16,5.8],[-17,4.9],[-6,3.3],[5.5,3.6]];
const hElms = [[0,36.4],[-22,28],[22,28],[0,27.3],[-56,24.7],[55,23],[-33,22.4],[-11,19.4],[33,20.2],[11,17.5],[-67,14.5],[-60,12.4],[-52,11.5],[-45,10.7],[-39,10],[-33,9.6],[-27,8.8],[-20,8],[-13,7.2],[-7,7.1],[0,6.9],[6.5,6.9],[13,7.1],[20,7.4],[26,8.8],[33,9.3],[40,9.6],[47,10.4],[53,11.5],[61,12.4],[67,13.5]];
const hUlmsMean = [20.7, 24.8, 29.1];
const hElmsMean = [13.5, 14.9, 16.5];
const hNormalRange = [5.25, 24.9];

// ---------- layout constants
const A_SLOTS = [56, 186, 314], A_LABELS = [69, 196, 336];
const D_SLOTS = [48.6, 155, 262, 368.5], D_LABELS = [46, 151, 261, 373];
const H_CENTERS = [100.7, 285], H_LABELS = [98, 291];

const flattenRows = (rows: any[]) => rows.flatMap(([y, xs]: any) => xs.map((x: number) => [x, y]));

const axisBase = (lw = 5, tick = 18, margin = 22) => ({
  axisLine: { show: true, onZero: false, lineStyle: { color: "#000", width: lw } },
  axisTick: { show: true, length: tick, lineStyle: { color: "#000", width: lw } },
  axisLabel: { fontSize: TICK_SIZE, color: "#000", fontFamily: FONT, margin },
  splitLine: { show: false },
});

function valueAxis(gridIndex: number, min: number, max: number, interval: number, extra: any = {}) {
  const b = axisBase(extra.lw, extra.tick, extra.margin);
  return {
    type: "value", gridIndex, min, max, interval, ...b,
    ...(extra.offset ? { offset: extra.offset } : {}),
    ...(extra.hide ? { show: false } : {}),
    axisLabel: { ...b.axisLabel, ...(extra.label || {}) },
    axisTick: { ...b.axisTick, ...(extra.tickOpt || {}) },
  };
}

function labelAxis(gridIndex: number, max: number, positions: number[], names: string[], extra: any = {}) {
  const b = axisBase(extra.lw ?? 5, 0, extra.margin ?? 14);
  const min = extra.min ?? 0;
  return {
    type: "value", gridIndex, min, max, ...b,
    offset: extra.offset ?? 0,
    show: !extra.hide,
    axisTick: { show: false },
    axisLabel: {
      ...b.axisLabel, fontSize: TEXT_SIZE, rotate: extra.rotate ?? 45, customValues: positions,
      formatter: (v: number) => names[positions.indexOf(v)] ?? "",
    },
  };
}

function boxSeries(ax: number, slots: number[], boxes: number[][], stars: string[], colors: string[], name: string, boxW: number, capW: number, lw: number) {
  return {
    type: "custom", name, xAxisIndex: ax, yAxisIndex: ax, silent: true, clip: false, z: 5,
    encode: { x: 0, y: [1, 2, 3, 4, 5] },
    data: boxes.map((b, i) => [slots[i], ...b]),
    renderItem: (p: any, api: any) => {
      const x = api.coord([api.value(0), 0])[0];
      const Y = (d: number) => api.coord([0, api.value(d)])[1];
      const [lo, q1, med, q3, hi] = [Y(1), Y(2), Y(3), Y(4), Y(5)];
      const st = { stroke: "#000", lineWidth: lw };
      const ln = (x1: number, y1: number, x2: number, y2: number) => ({ type: "line", shape: { x1, y1, x2, y2 }, style: st });
      const children: any[] = [
        ln(x, hi, x, lo), ln(x - capW / 2, hi, x + capW / 2, hi), ln(x - capW / 2, lo, x + capW / 2, lo),
        { type: "rect", shape: { x: x - boxW / 2, y: q3, width: boxW, height: Math.max(q1 - q3, 0.01) }, style: { fill: colors[p.dataIndex], stroke: "#000", lineWidth: lw } },
        ln(x - boxW / 2, med, x + boxW / 2, med),
      ];
      if (stars[p.dataIndex]) children.push({ type: "text", x: x + 1, y: hi - 5, style: { text: stars[p.dataIndex], fontSize: 40, fontFamily: FONT, fill: "#000", align: "center", verticalAlign: "middle" } });
      return { type: "group", children };
    },
  };
}

function meanSeries(ax: number, rows: number[][], name: string, meanW: number, capW: number) {
  return {
    type: "custom", name, xAxisIndex: ax, yAxisIndex: ax, silent: true, clip: false, z: 6,
    encode: { x: 0, y: [1, 2, 3] }, data: rows,
    renderItem: (_p: any, api: any) => {
      const x = api.coord([api.value(0), 0])[0];
      const Y = (d: number) => api.coord([0, api.value(d)])[1];
      const st = { stroke: "#000", lineWidth: 4 };
      const ln = (x1: number, y1: number, x2: number, y2: number) => ({ type: "line", shape: { x1, y1, x2, y2 }, style: st });
      return { type: "group", children: [
        ln(x, Y(1), x, Y(3)), ln(x - capW / 2, Y(1), x + capW / 2, Y(1)), ln(x - capW / 2, Y(3), x + capW / 2, Y(3)), ln(x - meanW / 2, Y(2), x + meanW / 2, Y(2)),
      ] };
    },
  };
}

function censorSeries(ax: number, data: number[][], color: string, name: string) {
  return {
    type: "custom", name, xAxisIndex: ax, yAxisIndex: ax, silent: true, z: 4, encode: { x: 0, y: 1 }, data,
    renderItem: (_p: any, api: any) => {
      const c = api.coord([api.value(0), api.value(1)]);
      return { type: "line", shape: { x1: c[0], y1: c[1], x2: c[0], y2: c[1] - 14 }, style: { stroke: color, lineWidth: 3.6 } };
    },
  };
}

const sc = (name: string, data: any[], ax: number, color: string, opacity: number, size: number, z = 3) => ({
  type: "scatter", name, data, xAxisIndex: ax, yAxisIndex: ax, symbolSize: size, silent: true, clip: false, z,
  itemStyle: { color, opacity },
});

const t = (text: string, x: number, y: number, o: any = {}) => ({
  type: "text", x, y, rotation: o.rot ? Math.PI / 2 : 0, z: 50,
  style: { text, fontSize: o.size ?? TEXT_SIZE, fontFamily: FONT, fontWeight: o.weight ?? "normal", fill: "#000", align: o.align ?? "center", verticalAlign: "middle", ...(o.rich ? { rich: o.rich } : {}) },
});
const fs = (size = TEXT_SIZE) => ({ fontSize: size, fontFamily: FONT, fill: "#000" });
const RICH_SUB = {
  n: { ...fs(), lineHeight: 38, verticalAlign: "middle" },
  s: { ...fs(22), lineHeight: 38, padding: [16, 0, 0, 0], verticalAlign: "middle" },
  i: { ...fs(), fontStyle: "italic", lineHeight: 38, verticalAlign: "middle" },
};
const letter = (s: string, x: number, y: number) => t(s, x, y, { size: 48, weight: "bold" });
const box = (x: number, y: number, w: number, h: number) => ({ type: "rect", z: 49, shape: { x, y, width: w, height: h }, style: { fill: "#fff", stroke: "#000", lineWidth: 4 } });
const dot = (x: number, y: number, fill: string, opacity = 1) => ({ type: "circle", z: 50, shape: { cx: x, cy: y, r: 7.5 }, style: { fill, opacity } });
const gline = (x1: number, y1: number, x2: number, y2: number, stroke: string) => ({ type: "line", z: 50, shape: { x1, y1, x2, y2 }, style: { stroke, lineWidth: 5 } });

function buildOption() {
  const grid = [
    { left: 354, top: 44, width: 387, height: 197 },
    { left: 340, top: 383, width: 382, height: 382 },
    { left: 1083, top: 69.5, width: 683, height: 600, show: true, borderColor: "#000", borderWidth: 4 },
    { left: 142, top: 860, width: 416, height: 197 },
    { left: 142, top: 1089, width: 416, height: 198 },
    { left: 765, top: 903, width: 381, height: 381 },
    { left: 1404, top: 903, width: 383, height: 381 },
    { left: 404, top: 1475, width: 384, height: 381 },
    { left: 1287, top: 1462, width: 383, height: 381 },
  ];
  const xAxis = [
    labelAxis(0, 387, A_LABELS, aCategories, { offset: 22 }),
    labelAxis(1, 192, [0], ["cLMS"], { min: -190, rotate: 0, margin: 12 }),
    { ...valueAxis(2, 0, 9, 1, { tick: 14, lw: 4, margin: 15, tickOpt: { customValues: cXTicks }, label: { customValues: cXTicks } }) },
    labelAxis(3, 416, [], [], { hide: true }),
    labelAxis(4, 416, D_LABELS, dCategories, { offset: 23, lw: 4, margin: 12 }),
    valueAxis(5, 0, 8, 4, { tick: 16, margin: 17 }),
    valueAxis(6, 0, 16, 1, { tick: 14, margin: 15, tickOpt: { customValues: fXTicks }, label: { customValues: fXTicks } }),
    valueAxis(7, 0, 7, 1, { tick: 14, margin: 16, tickOpt: { customValues: gXTicks }, label: { customValues: gXTicks } }),
    labelAxis(8, 383, H_LABELS, hCategories, { margin: 14 }),
  ];
  const cFmt = (v: number) => v.toFixed(1);
  const yAxis = [
    valueAxis(0, 0, 60, 60),
    valueAxis(1, 0, 150, 75),
    valueAxis(2, -0.04, 1.04, 0.2, { tick: 15, lw: 4, margin: 20, tickOpt: { customValues: cYTicks }, label: { customValues: cYTicks, formatter: cFmt } }),
    valueAxis(3, 0, 200, 200),
    valueAxis(4, 0, 50, 50),
    valueAxis(5, 0, 12, 6),
    valueAxis(6, 0, 17, 1, { tick: 14, margin: 18, tickOpt: { customValues: fYTicks }, label: { customValues: fYTicks } }),
    valueAxis(7, 0, 20, 5),
    valueAxis(8, 0, 125, 62.5),
  ];
  const series: any[] = [
    boxSeries(0, A_SLOTS, aBoxes, aStars, [DARK, BLUE, RED], "IGF1R", 86, 46, 5),
    sc("IGF1R>median", bHigh, 1, "#666666", 0.8, 15),
    sc("IGF1R<median", bLow, 1, "#000000", 1, 15),
    meanSeries(1, [bMeanSd], "IGF1R mean", 284, 145),
    { type: "line", name: "cLMS IGF1R>median", data: cHighLine, xAxisIndex: 2, yAxisIndex: 2, step: "end", symbol: "none", silent: true, z: 3, lineStyle: { color: "#6e6e6e", width: 5 } },
    censorSeries(2, cHighCensor, "#6e6e6e", "cLMS IGF1R>median censored"),
    { type: "line", name: "cLMS IGF1R<median", data: cLowLine, xAxisIndex: 2, yAxisIndex: 2, step: "end", symbol: "none", silent: true, z: 5, lineStyle: { color: "#000", width: 5 } },
    censorSeries(2, cLowCensor, "#000", "cLMS IGF1R<median censored"),
    boxSeries(3, D_SLOTS, dPrlBoxes, dPrlStars, [DARK, BLUE, RED, ORANGE], "PRL", 72, 38, 4),
    boxSeries(4, D_SLOTS, dPrlrBoxes, dPrlrStars, [DARK, BLUE, RED, ORANGE], "PRLR", 72, 38, 4),
    sc("Uterus", eUterus, 5, ORANGE, 0.35, 16, 3),
    sc("uLMS", eUlms, 5, "#ff0000", 0.5, 16, 4),
    sc("cLMS", eClms, 5, "#000000", 0.45, 16, 5),
    sc("iLMS", eIlms, 5, BLUE, 0.5, 16, 6),
    sc("TCGA non-LMS", fSparse, 6, "#000000", 0.27, 11.5, 3),
    sc("TCGA non-LMS mid", fMiddle, 6, "#000000", 0.5, 11.5, 4),
    sc("TCGA non-LMS mid 2", fMiddle2, 6, "#000000", 0.45, 11.5, 4),
    sc("TCGA non-LMS core", flattenRows(fCoreRows), 6, "#000000", 1, 13, 5),
    sc("TCGA LMS", fLms, 6, RED, 0.5, 11.5, 6),
    sc("Other Tissues", gOtherSparse, 7, "#000000", 0.27, 11.5, 3),
    sc("Other Tissues mid", gOtherMid, 7, "#000000", 0.5, 11.5, 3),
    sc("Other Tissues core", flattenRows(gOtherCoreRows), 7, "#000000", 1, 13, 4),
    sc("Pituitary", gPituitary, 7, "#dcb820", 0.42, 11.5, 5),
    sc("Uterus", gUterus, 7, ORANGE, 0.4, 11.5, 5),
    sc("Adrenal", gAdrenal, 7, "#109020", 0.5, 11.5, 6),
    sc("Vagina", gVagina, 7, "#8a2aa0", 0.45, 11.5, 6),
    sc("Breast", gBreast, 7, BLUE, 0.5, 11.5, 7),
    {
      type: "scatter", name: "Normal range", data: [], xAxisIndex: 8, yAxisIndex: 8, z: 1, silent: true,
      markArea: { silent: true, z: 1, itemStyle: { color: "#e8e8fe" }, data: [[{ xAxis: 2, yAxis: hNormalRange[0] }, { xAxis: 380, yAxis: hNormalRange[1] }]] },
    },
    sc("ULMS", hUlms.map(([o, v]) => [H_CENTERS[0] + o, v]), 8, RED, 0.75, 15, 3),
    sc("ELMS", hElms.map(([o, v]) => [H_CENTERS[1] + o, v]), 8, "#444444", 0.72, 15, 3),
    meanSeries(8, [[H_CENTERS[0], ...hUlmsMean], [H_CENTERS[1], ...hElmsMean]], "Prolactin mean", 158, 82),
  ];
  const elements: any[] = [
    letter("A", 248, 24.5), letter("B", 248, 354), letter("C", 988, 46), letter("D", 19, 838),
    letter("E", 623, 847), letter("F", 1299, 839), letter("G", 309, 1444), letter("H", 1150, 1444),
    t("FPKM", 257, 143, { rot: 1 }), t("IGF1R", 306, 143, { rot: 1 }),
    t("IGF1R FPKM", 258, 574, { rot: 1 }),
    box(572, 364, 332, 107), dot(614, 400, "#808080"), dot(614, 436, "#000"),
    t("IGF1R>median", 635, 400, { align: "left" }), t("IGF1R<median", 635, 436, { align: "left" }),
    t("Survival", 987, 369, { rot: 1 }), t("Time (years)", 1424, 737),
    t("{i|P}{n| = 1.15e-02}", 1760, 90, { align: "right", rich: RICH_SUB }),
    gline(1109, 604, 1154, 604, "#6e6e6e"), gline(1109, 639, 1154, 639, "#000"),
    t("{n|cLMS IGF1R>median (}{i|n}{n|=23): 12 events}", 1754, 603, { align: "right", rich: RICH_SUB }),
    t("{n|cLMS IGF1R<median (}{i|n}{n|=22):   2 events}", 1754, 638, { align: "right", rich: RICH_SUB }),
    t("FPKM", 38, 1080, { rot: 1 }), t("PRL", 101, 965, { rot: 1 }), t("PRLR", 101, 1187, { rot: 1 }),
    t("{n|PRL Log}{s|2}{n| FPKM}", 690, 1093, { rot: 1, rich: RICH_SUB }),
    t("{n|PRLR Log}{s|2}{n| FPKM}", 955, 1345, { rich: RICH_SUB }),
    box(1050, 903, 170, 135),
    dot(1080, 929, "#000", 0.45), dot(1080, 958, BLUE, 0.5), dot(1080, 987, "#ff0000", 0.5), dot(1080, 1016, ORANGE, 0.45),
    t("cLMS", 1100, 927, { align: "left" }), t("iLMS", 1100, 956, { align: "left" }), t("uLMS", 1100, 985, { align: "left" }), t("Uterus", 1100, 1014, { align: "left" }),
    t("{n|PRL Log}{s|2}{n| RSEM}", 1329, 1094, { rot: 1, rich: RICH_SUB }),
    t("{n|PRLR Log}{s|2}{n| RSEM}", 1593, 1345, { rich: RICH_SUB }),
    box(1738, 903, 260, 108),
    dot(1750, 939, "#ff0000", 0.45), dot(1750, 974, "#000", 0.25),
    t("TCGA LMS", 1761, 939, { align: "left" }), t("TCGA non-LMS", 1761, 974, { align: "left" }),
    t("{n|PRL Log}{s|2}{n| TPM}", 329, 1666, { rot: 1, rich: RICH_SUB }),
    t("{n|PRLR Log}{s|2}{n| TPM}", 595, 1917, { rich: RICH_SUB }),
    box(685, 1475, 256, 196),
    dot(704, 1504, "#dcb820", 0.55), dot(704, 1532, "#109020", 0.5), dot(704, 1562, BLUE, 0.5), dot(704, 1591, ORANGE, 0.5), dot(704, 1620, "#8a2aa0", 0.5), dot(704, 1648, "#000", 0.25),
    t("Pituitary", 725, 1503, { align: "left" }), t("Adrenal", 725, 1531, { align: "left" }), t("Breast", 725, 1560, { align: "left" }),
    t("Uterus", 725, 1589, { align: "left" }), t("Vagina", 725, 1618, { align: "left" }), t("Other Tissues", 725, 1648, { align: "left" }),
    t("{i|P}{n| = 0.0476}", 1670, 1479, { align: "right", rich: RICH_SUB }),
    t("Prolactin (ng/mL)", 1173, 1653, { rot: 1 }),
  ];
  return { animation: false, backgroundColor: "#fff", textStyle: { fontFamily: FONT }, tooltip: { show: false }, grid, xAxis, yAxis, series, graphic: { elements } };
}

export default function App() {
  const ref = useRef<HTMLDivElement>(null);
  useEffect(() => {
    const chart = echarts.init(ref.current!, undefined, { renderer: "svg" });
    chart.setOption(buildOption() as any);
    return () => chart.dispose();
  }, []);
  return <div ref={ref} style={{ position: "absolute", left: 0, top: 0, width: 2000, height: 1936 }} />;
}
